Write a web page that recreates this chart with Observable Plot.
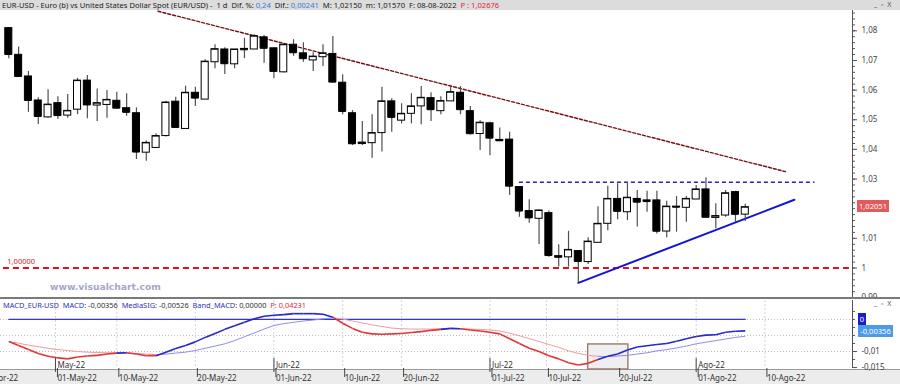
<!DOCTYPE html>
<html><head><meta charset="utf-8">
<script src="https://cdn.jsdelivr.net/npm/d3@7"></script>
<script src="https://cdn.jsdelivr.net/npm/@observablehq/plot@0.6"></script>
<style>
html,body{margin:0;padding:0;background:#fff;}
#wrap{position:relative;width:900px;height:384px;overflow:hidden;font-family:"Noto Sans",sans-serif;background:#fff;}
.abs{position:absolute;white-space:nowrap;}
#titlebar{left:0;top:0;width:900px;height:10px;background:#dcdcdc;font-size:7.6px;line-height:10px;color:#222;}
#titlebar span.t{position:absolute;left:2px;top:0;}
.blue{color:#3b7bd6;} .red{color:#e0283a;} .dblue{color:#2b35b0;}
.btns{font-size:7px;color:#555;letter-spacing:1px;}
#sep{left:0;top:297px;width:900px;height:2px;background:#7a7a7a;}
#bottombar{left:0;top:369px;width:900px;height:15px;background:#ececec;border-top:1px solid #9a9a9a;}
#macdtitle{left:3px;top:300px;font-size:7.4px;line-height:10px;color:#333;}
.box{color:#fff;font-size:7.6px;line-height:12px;text-align:center;}
#mark{left:50px;top:281px;font-family:"DejaVu Sans",sans-serif;font-weight:bold;font-size:9.2px;color:#a6a6cc;}
#axhead{left:853px;top:299px;width:47px;height:11px;background:#fff;}
</style></head><body>
<div id="wrap">
  <div id="bottombar" class="abs"></div>
  <div id="mainplot" class="abs" style="left:0;top:10px;"></div>
  <div id="macdplot" class="abs" style="left:0;top:298px;"></div>
  <div id="titlebar" class="abs"><span class="t">EUR-USD - Euro (b) vs United States Dollar Spot (EUR/USD) -&nbsp; 1 d&nbsp; Dif. %: <span class="blue">0,24</span>&nbsp; Dif.: <span class="blue">0,00241</span>&nbsp; M: 1,02150&nbsp; m: 1,01570&nbsp; F: 08-08-2022&nbsp; <span class="red">P : 1,02676</span></span></div>
  <div class="abs btns" style="left:874px;top:0px;">_ ▫ X</div>
  <div id="sep" class="abs"></div>
  <div id="axhead" class="abs"></div>
  <div class="abs btns" style="left:874px;top:299px;">_ ▫ X</div>
  <div id="macdtitle" class="abs"><span class="dblue">MACD_EUR-USD&nbsp; MACD:</span> -0,00356&nbsp; <span class="dblue">MediaSIG:</span> -0,00526&nbsp; <span class="dblue">Band_MACD:</span> 0,00000&nbsp; <span class="red">P: 0,04231</span></div>
  <div id="mark" class="abs">www.visualchart.com</div>
  <div class="abs box" style="left:857px;top:200px;width:32px;height:12px;background:#e35a5c;">1,02051</div>
  <div class="abs box" style="left:858px;top:313px;width:8px;height:12px;background:#1b1bd0;">0</div>
  <div class="abs box" style="left:858px;top:325px;width:35px;height:12px;background:#4d9be6;">-0,00356</div>
</div>
<script>
// ---- data ----
const dates = ["2022-04-25","2022-04-26","2022-04-27","2022-04-28","2022-04-29",
"2022-05-02","2022-05-03","2022-05-04","2022-05-05","2022-05-06","2022-05-09","2022-05-10","2022-05-11","2022-05-12","2022-05-13",
"2022-05-16","2022-05-17","2022-05-18","2022-05-19","2022-05-20","2022-05-23","2022-05-24","2022-05-25","2022-05-26","2022-05-27",
"2022-05-30","2022-05-31","2022-06-01","2022-06-02","2022-06-03","2022-06-06","2022-06-07","2022-06-08","2022-06-09","2022-06-10",
"2022-06-13","2022-06-14","2022-06-15","2022-06-16","2022-06-17","2022-06-20","2022-06-21","2022-06-22","2022-06-23","2022-06-24",
"2022-06-27","2022-06-28","2022-06-29","2022-06-30","2022-07-01","2022-07-04","2022-07-05","2022-07-06","2022-07-07","2022-07-08",
"2022-07-11","2022-07-12","2022-07-13","2022-07-14","2022-07-15","2022-07-18","2022-07-19","2022-07-20","2022-07-21","2022-07-22",
"2022-07-25","2022-07-26","2022-07-27","2022-07-28","2022-07-29","2022-08-01","2022-08-02","2022-08-03","2022-08-04","2022-08-05","2022-08-08"];
const open = [1.0809,1.0719,1.0646,1.0565,1.0508,1.0556,1.0514,1.0534,1.0632,1.0548,1.0550,1.0564,1.0539,1.0522,1.0389,1.0405,1.0445,1.0561,1.0469,1.0591,
1.0568,1.0694,1.0737,1.0687,1.0739,1.0737,1.0778,1.0741,1.0660,1.0753,1.0724,1.0700,1.0711,1.0722,1.0625,1.0522,1.0418,1.0421,1.0455,1.0562,
1.0497,1.0520,1.0545,1.0573,1.0529,1.0562,1.0591,1.0529,1.0452,1.0488,1.0432,1.0433,1.0273,1.0192,1.0166,1.0185,1.0040,1.0036,1.0057,1.0020,
1.0085,1.0149,1.0233,1.0188,1.0233,1.0228,1.0228,1.0123,1.0207,1.0203,1.0231,1.0265,1.0169,1.0177,1.0256,1.0180];
const high = [1.0811,1.0745,1.0663,1.0574,1.0601,1.0578,1.0585,1.0640,1.0649,1.0604,1.0599,1.0593,1.0588,1.0540,1.0428,1.0453,1.0562,1.0576,1.0613,1.0610,
1.0702,1.0753,1.0743,1.0737,1.0775,1.0787,1.0784,1.0741,1.0753,1.0770,1.0760,1.0726,1.0753,1.0781,1.0652,1.0531,1.0494,1.0517,1.0610,1.0571,
1.0554,1.0588,1.0612,1.0591,1.0578,1.0616,1.0612,1.0545,1.0497,1.0492,1.0472,1.0458,1.0273,1.0230,1.0196,1.0192,1.0078,1.0124,1.0057,1.0102,
1.0207,1.0276,1.0284,1.0289,1.0261,1.0259,1.0259,1.0225,1.0241,1.0241,1.0278,1.0304,1.0217,1.0261,1.0259,1.0215];
const low = [1.0706,1.0646,1.0525,1.0484,1.0505,1.0501,1.0505,1.0517,1.0503,1.0494,1.0505,1.0539,1.0512,1.0366,1.0360,1.0405,1.0442,1.0474,1.0469,1.0545,
1.0568,1.0672,1.0653,1.0672,1.0706,1.0737,1.0691,1.0638,1.0658,1.0714,1.0694,1.0663,1.0680,1.0623,1.0517,1.0413,1.0413,1.0370,1.0391,1.0458,
1.0486,1.0486,1.0483,1.0494,1.0517,1.0562,1.0517,1.0449,1.0396,1.0379,1.0429,1.0245,1.0171,1.0151,1.0079,1.0036,1.0003,1.0003,0.9950,1.0012,
1.0085,1.0126,1.0163,1.0160,1.0138,1.0188,1.0115,1.0102,1.0121,1.0154,1.0231,1.0171,1.0132,1.0171,1.0154,1.0157];
const close = [1.0720,1.0646,1.0565,1.0511,1.0551,1.0514,1.0530,1.0632,1.0550,1.0556,1.0567,1.0539,1.0525,1.0391,1.0422,1.0445,1.0558,1.0474,1.0591,1.0573,
1.0696,1.0738,1.0689,1.0737,1.0736,1.0782,1.0741,1.0663,1.0753,1.0726,1.0706,1.0713,1.0724,1.0627,1.0528,1.0419,1.0423,1.0455,1.0562,1.0508,
1.0520,1.0545,1.0574,1.0534,1.0563,1.0593,1.0534,1.0453,1.0490,1.0438,1.0429,1.0276,1.0192,1.0169,1.0194,1.0042,1.0036,1.0061,1.0022,1.0089,
1.0149,1.0233,1.0191,1.0237,1.0222,1.0224,1.0124,1.0207,1.0205,1.0233,1.0265,1.0171,1.0175,1.0252,1.0181,1.02051];
const macd = [-0.0069,-0.0081,-0.0094,-0.0106,-0.0115,-0.0120,-0.0123,-0.0117,-0.0114,-0.0112,-0.0108,-0.0105,-0.0104,-0.0108,-0.0113,-0.0113,-0.0102,-0.0091,-0.0081,-0.0070,
-0.0056,-0.0044,-0.0031,-0.0020,-0.0009,0.0002,0.0010,0.0013,0.0015,0.0018,0.0018,0.0018,0.0016,0.0007,-0.0012,-0.0028,-0.0040,-0.0045,-0.0046,-0.0045,
-0.0044,-0.0041,-0.0038,-0.0034,-0.0031,-0.0028,-0.0029,-0.0033,-0.0036,-0.0040,-0.0045,-0.0060,-0.0075,-0.0090,-0.0100,-0.0113,-0.0123,-0.0135,-0.0142,-0.0137,
-0.0125,-0.0115,-0.0108,-0.0095,-0.0086,-0.0082,-0.0078,-0.0075,-0.0068,-0.0060,-0.0053,-0.0049,-0.0048,-0.0040,-0.0037,-0.00356];
const signal = [-0.0069,-0.0074,-0.0080,-0.0085,-0.0090,-0.0094,-0.0097,-0.0100,-0.0102,-0.0103,-0.0104,-0.0104,-0.0105,-0.0106,-0.0108,-0.0110,-0.0108,-0.0105,-0.0102,-0.0097,
-0.0090,-0.0083,-0.0076,-0.0066,-0.0054,-0.0042,-0.0030,-0.0019,-0.0013,-0.0009,-0.0005,-0.0002,0.0002,0.0004,0.0001,-0.0005,-0.0011,-0.0017,-0.0022,-0.0027,
-0.0029,-0.0030,-0.0030,-0.0030,-0.0029,-0.0029,-0.0029,-0.0030,-0.0031,-0.0033,-0.0036,-0.0043,-0.0051,-0.0060,-0.0069,-0.0078,-0.0087,-0.0098,-0.0106,-0.0112,
-0.0115,-0.0116,-0.0114,-0.0112,-0.0108,-0.0104,-0.0098,-0.0094,-0.0089,-0.0083,-0.0076,-0.0071,-0.0066,-0.0061,-0.0056,-0.00526];
const bandMACD = 0;
// annotations (x in trading-day index, y in price / MACD units)
const supportLevel = 1.0;
const resistLevel = 1.0289, resistIdx = [52.0, 82.1];
const downTrendIdx = [15.2, 79.1], downTrendVal = [1.0866, 1.0325];
const upTrendIdx = [58, 80], upTrendVal = [0.9950, 1.0230];
const boxIdx = [59.0, 63.1], boxVal = [-0.0078, -0.0156];
// axes
const priceTicks = [0.99,1.00,1.01,1.03,1.04,1.05,1.06,1.07,1.08];
const macdTicks = [-0.01,-0.015];
const dateTickIdx = [-3, 4.75, 11, 19, 27, 34, 40, 49, 54.75, 62, 70, 77];
const dateTickLabels = ["20-Apr-22","01-May-22","10-May-22","20-May-22","01-Jun-22","10-Jun-22","20-Jun-22","01-Jul-22","10-Jul-22","20-Jul-22","01-Ago-22","10-Ago-22"];
const monthTickIdx = [4.75, 27, 49, 70];
const monthTickLabels = ["May-22","Jun-22","Jul-22","Ago-22"];

// ---- build ----
const xDomain = [-0.845, 85.92];
const candles = dates.map((d, i) => ({i, date: d, open: open[i], high: high[i], low: low[i], close: close[i]}));
const hw = 0.36;
const comma = v => String(+v.toFixed(4)).replace(".", ",");
const dateLab = new Map(dateTickIdx.map((d, i) => [d, dateTickLabels[i]]));
const monthLab = new Map(monthTickIdx.map((d, i) => [d, monthTickLabels[i]]));
const minorPrice = d3.range(0.99, 1.0869, 0.002);
const font = {background: "transparent", fontFamily: "Noto Sans", fontSize: "8px", overflow: "visible", color: "#333"};

const mainPlot = Plot.plot({
  width: 900, height: 288,
  marginLeft: 0, marginRight: 48, marginTop: 0, marginBottom: 1,
  x: {domain: xDomain, axis: null},
  y: {domain: [0.99005, 1.08685], axis: null},
  style: font,
  marks: [
    Plot.ruleY([supportLevel], {stroke: "#e0101e", strokeWidth: 2, strokeDasharray: "6,4", x1: xDomain[0] + 0.3, x2: xDomain[1] - 0.2}),
    Plot.text([supportLevel], {x: -0.15, y: d => d, text: d => d.toFixed(5).replace(".", ","), dy: -6.5, textAnchor: "start", fill: "#e0101e", fontSize: 7.5}),
    Plot.ruleY([resistLevel], {x1: resistIdx[0], x2: resistIdx[1], stroke: "#2424c8", strokeWidth: 1.4, strokeDasharray: "4,3"}),
    Plot.line(downTrendIdx.map((x, k) => ({x, y: downTrendVal[k]})), {x: "x", y: "y", stroke: "#7a1010", strokeWidth: 1.4, strokeDasharray: "3,2"}),
    Plot.line(upTrendIdx.map((x, k) => ({x, y: upTrendVal[k]})), {x: "x", y: "y", stroke: "#1414d4", strokeWidth: 2}),
    Plot.ruleX(candles, {x: "i", y1: "low", y2: "high", stroke: "#505050", strokeWidth: 1.2}),
    Plot.rect(candles, {x1: d => d.i - hw, x2: d => d.i + hw, y1: "open", y2: "close", fill: d => d.close >= d.open ? "white" : "black", stroke: "black", strokeWidth: 1}),
    Plot.ruleY(candles, {y: "close", x1: d => d.i - hw, x2: d => d.i + hw, stroke: "black", strokeWidth: 1}),
    Plot.ruleX([xDomain[1]], {stroke: "#555", strokeWidth: 1}),
    Plot.axisY(minorPrice, {anchor: "right", tickSize: 2, tickFormat: () => "", label: null, stroke: "#555"}),
    Plot.axisY(priceTicks, {anchor: "right", tickSize: 4, tickPadding: 5, tickFormat: comma, label: null, stroke: "#555", fill: "#444", fontSize: 8})
  ]
});
document.getElementById("mainplot").appendChild(mainPlot);

const segs = d3.range(macd.length - 1).map(i => ({
  x1: i, x2: i + 1, m1: macd[i], m2: macd[i + 1], s1: signal[i], s2: signal[i + 1], up: macd[i + 1] >= signal[i + 1]
}));
const minorMacd = d3.range(-0.015, 0.0051, 0.0025);
const macdPlot = Plot.plot({
  width: 900, height: 86,
  marginLeft: 0, marginRight: 48, marginTop: 2, marginBottom: 16,
  x: {domain: xDomain, axis: null},
  y: {domain: [-0.0153, 0.0059], axis: null},
  style: font,
  marks: [
    Plot.gridY([0, -0.005, -0.01], {stroke: "#b8b8b8", strokeOpacity: 1, strokeDasharray: "1,2"}),
    Plot.gridX(dateTickIdx, {stroke: "#d4d4d4", strokeOpacity: 1, strokeDasharray: "2,2"}),
    Plot.rect([0], {x1: boxIdx[0], x2: boxIdx[1], y1: boxVal[0], y2: boxVal[1], fill: "#efefef", stroke: "#9c7868", strokeWidth: 1.4}),
    Plot.line(dates.map((d, i) => ({i, v: bandMACD})), {x: "i", y: "v", stroke: "#3434d8", strokeWidth: 1.2}),
    Plot.link(segs, {x1: "x1", x2: "x2", y1: "s1", y2: "s2", stroke: d => d.up ? "#8c8cf0" : "#f39a9a", strokeWidth: 1}),
    Plot.link(segs, {x1: "x1", x2: "x2", y1: "m1", y2: "m2", stroke: d => d.up ? "#2626cc" : "#e23434", strokeWidth: 1.6}),
    Plot.tickX(monthTickIdx, {x: d => d, insetTop: 58, insetBottom: -4, stroke: "#444"}),
    Plot.text(monthTickIdx, {x: d => d, frameAnchor: "bottom", text: d => monthLab.get(d), textAnchor: "start", lineAnchor: "bottom", dx: 2, dy: -1, fill: "#333", fontSize: 8}),
    Plot.ruleX([xDomain[1]], {stroke: "#555", strokeWidth: 1}),
    Plot.axisY(minorMacd, {anchor: "right", tickSize: 2, tickFormat: () => "", label: null, stroke: "#555"}),
    Plot.axisY(macdTicks, {anchor: "right", tickSize: 4, tickPadding: 5, tickFormat: comma, label: null, stroke: "#555", fill: "#444", fontSize: 8}),
    Plot.axisX(dateTickIdx, {anchor: "bottom", tickSize: 9, tickPadding: -2, textAnchor: "start", dx: 2, tickFormat: d => dateLab.get(d), label: null, stroke: "#444", fill: "#333", fontSize: 8})
  ]
});
document.getElementById("macdplot").appendChild(macdPlot);
</script>
</body></html>
